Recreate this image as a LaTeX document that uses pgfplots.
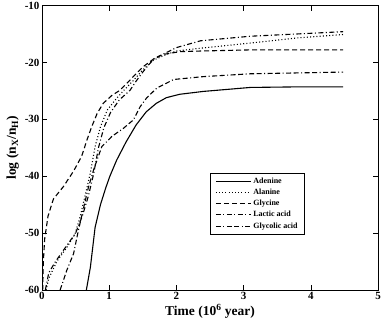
\documentclass[border=0pt]{standalone}
\usepackage{fontspec}
\setmainfont{Liberation Serif}
\usepackage{pgfplots}
\pgfplotsset{compat=1.18}
\begin{document}
\begin{tikzpicture}
\begin{axis}[
  at={(0pt,0pt)}, anchor=south west,
  scale only axis, width=336pt, height=284.5pt,
  xmin=0, xmax=5, ymin=-60, ymax=-10,
  xtick={0,1,2,3,4,5}, ytick={-60,-50,-40,-30,-20,-10},
  tick align=inside, major tick length=5pt,
  axis line style={line width=0.9pt}, every tick/.style={black, line width=0.6pt},
  /pgf/number format/assume math mode=true,
  tick label style={font=\fontsize{11}{13}\selectfont\bfseries},
  yticklabel style={xshift=1pt},
  xticklabel style={yshift=1pt},
  xlabel={\textbf{Time (10\textsuperscript{6} year)}},
  ylabel={\textbf{log (n\textsubscript{X}/n\textsubscript{H})}},
  label style={font=\fontsize{13.5}{15}\selectfont},
  xlabel style={yshift=3pt},
  ylabel style={yshift=-1pt},
  legend cell align=left,
  legend style={at={(rel axis cs:0.5,0.412)}, anchor=north west,
    font=\fontsize{8}{9}\selectfont\bfseries, draw=black, line width=0.6pt,
    inner xsep=5pt, inner ysep=2.5pt, row sep=0.2pt},
  legend image code/.code={\draw[#1, line width=1pt] (0pt,0pt) -- (35pt,0pt);},
  every axis plot/.append style={line width=1.1pt, black},
  ]
% Adenine
\addplot[solid] coordinates {
 (0.66,-60) (0.72,-56) (0.79,-49) (0.87,-45) (0.95,-42) (1.01,-40) (1.11,-37.2)
 (1.25,-34) (1.4,-31) (1.55,-28.7) (1.7,-27.2) (1.85,-26.2) (2.05,-25.6)
 (2.4,-25.1) (3.1,-24.4) (3.8,-24.3) (4.48,-24.3)};
\addlegendentry{Adenine}
% Alanine
\addplot[dash pattern=on 1pt off 2.2pt] coordinates {
 (0.06,-60) (0.1,-58) (0.22,-55) (0.37,-52.5) (0.49,-50.2) (0.57,-47) (0.64,-43.5)
 (0.72,-39.4) (0.79,-34.8) (0.87,-31.3) (0.97,-28.4) (1.09,-26.6) (1.21,-25)
 (1.35,-23.3) (1.5,-21.3) (1.66,-19.6) (1.85,-18.6) (2.0,-18.0) (2.36,-17.5)
 (3.1,-16.6) (3.8,-15.7) (4.48,-15.1)};
\addlegendentry{Alanine}
% Glycine
\addplot[dash pattern=on 5pt off 3pt] coordinates {
 (0.01,-60) (0.02,-55) (0.04,-51) (0.09,-47) (0.17,-44) (0.32,-41.8) (0.47,-39.1)
 (0.59,-36.5) (0.67,-33.6) (0.74,-31.3) (0.82,-29) (0.91,-27.2) (1.04,-25.8)
 (1.16,-24.9) (1.26,-23.7) (1.4,-22) (1.5,-20.8) (1.66,-19.4) (1.8,-18.6)
 (2.06,-18.1) (2.36,-18.0) (3.1,-17.8) (4.48,-17.8)};
\addlegendentry{Glycine}
% Lactic acid
\addplot[dash pattern=on 5pt off 2.5pt on 1pt off 2.5pt] coordinates {
 (0.05,-60) (0.1,-57) (0.2,-55) (0.35,-52.5) (0.5,-50) (0.6,-47) (0.69,-43.5)
 (0.77,-39.5) (0.84,-35) (0.92,-31.5) (1.02,-28.8) (1.15,-26.6) (1.31,-24.9)
 (1.4,-23.3) (1.5,-21.7) (1.66,-19.4) (1.76,-18.8) (2.0,-17.4) (2.36,-16.2)
 (3.1,-15.4) (3.8,-15.0) (4.48,-14.6)};
\addlegendentry{Lactic acid}
% Glycolic acid
\addplot[dash pattern=on 5pt off 2.5pt on 1pt off 2.5pt on 5pt off 2.5pt] coordinates {
 (0.27,-60) (0.37,-56.5) (0.47,-53.6) (0.54,-49.6) (0.62,-45.5) (0.69,-42)
 (0.77,-38.8) (0.89,-34.8) (1.04,-33) (1.21,-31.6) (1.36,-30.1) (1.46,-27.8)
 (1.56,-26.2) (1.71,-24.5) (1.96,-23) (2.4,-22.5) (3.1,-22) (4.48,-21.7)};
\addlegendentry{Glycolic acid}
\end{axis}
\pgfresetboundingbox
\path (-42pt,-37pt) rectangle (340pt,290pt);
\end{tikzpicture}
\end{document}
